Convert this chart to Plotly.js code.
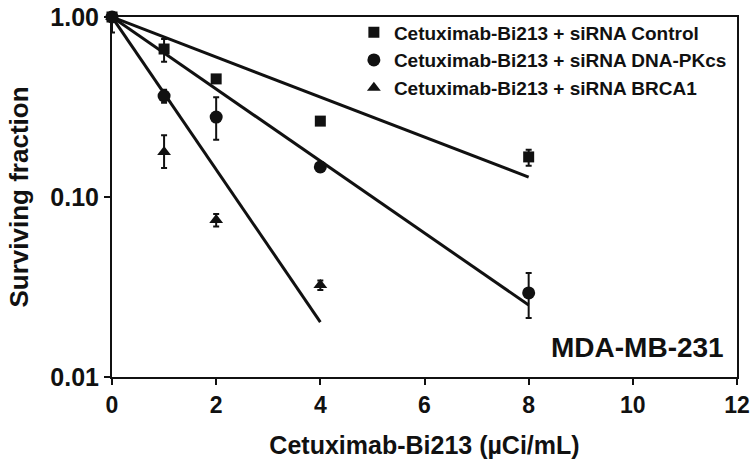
<!DOCTYPE html>
<html>
<head>
<meta charset="utf-8">
<script src="https://cdn.plot.ly/plotly-3.0.1.min.js"></script>
<style>html,body{margin:0;padding:0;background:#fff;}#chart{width:750px;height:465px;}</style>
</head>
<body>
<div id="chart"></div>
<script>
// Doses (µCi/mL)
const dosesCtrl = [0, 1, 2, 4, 8];
const dosesPK = [0, 1, 2, 4, 8];
const dosesBRCA = [0, 1, 2, 4];

// Surviving fraction
const sfCtrl = [1.0, 0.664, 0.453, 0.264, 0.167];
const errCtrlPlus = [0.0, 0.09, 0.02, 0.01, 0.016];
const errCtrlMinus = [0.0, 0.10, 0.02, 0.01, 0.018];

const sfPK = [1.0, 0.364, 0.278, 0.147, 0.0293];
const errPKPlus = [0.0, 0.03, 0.08, 0.008, 0.0085];
const errPKMinus = [0.0, 0.03, 0.07, 0.008, 0.008];

const sfBRCA = [1.0, 0.178, 0.0745, 0.0324];
const errBRCAPlus = [0.0, 0.042, 0.006, 0.002];
const errBRCAMinus = [0.18, 0.033, 0.006, 0.002];

// Fitted exponential curves (endpoints)
const fitCtrlX = [0, 8];
const fitCtrlY = [1.0, 0.129];
const fitPKX = [0, 8];
const fitPKY = [1.0, 0.0251];
const fitBRCAX = [0, 4];
const fitBRCAY = [1.0, 0.0202];

const names = [
  'Cetuximab-Bi213 + siRNA Control',
  'Cetuximab-Bi213 + siRNA DNA-PKcs',
  'Cetuximab-Bi213 + siRNA BRCA1'
];

const FONT = 'Liberation Sans, Arial, Helvetica, sans-serif';
const lineStyle = {color: '#111', width: 3};

function errBars(p, m) {
  return {type: 'data', symmetric: false, array: p, arrayminus: m,
          color: '#111', thickness: 2, width: 3};
}

const traces = [
  {x: fitCtrlX, y: fitCtrlY, mode: 'lines', line: lineStyle, showlegend: false, hoverinfo: 'skip', cliponaxis: false},
  {x: fitPKX, y: fitPKY, mode: 'lines', line: lineStyle, showlegend: false, hoverinfo: 'skip', cliponaxis: false},
  {x: fitBRCAX, y: fitBRCAY, mode: 'lines', line: lineStyle, showlegend: false, hoverinfo: 'skip', cliponaxis: false},
  {x: dosesCtrl, y: sfCtrl, name: names[0], mode: 'markers', cliponaxis: false,
   marker: {symbol: 'square', size: 11, color: '#111'},
   error_y: errBars(errCtrlPlus, errCtrlMinus)},
  {x: dosesPK, y: sfPK, name: names[1], mode: 'markers', cliponaxis: false,
   marker: {symbol: 'circle', size: 13, color: '#111'},
   error_y: errBars(errPKPlus, errPKMinus)},
  {x: dosesBRCA, y: sfBRCA, name: names[2], mode: 'markers', cliponaxis: false,
   marker: {symbol: 'triangle-up', size: 12, color: '#111'},
   error_y: errBars(errBRCAPlus, errBRCAMinus)}
];

const layout = {
  width: 750, height: 465,
  margin: {l: 112, r: 13, t: 17, b: 88},
  paper_bgcolor: '#fff', plot_bgcolor: '#fff',
  font: {family: FONT, color: '#111', weight: 'bold'},
  showlegend: true,
  legend: {
    x: 0.387, y: 1.01, xanchor: 'left', yanchor: 'top',
    font: {family: FONT, size: 19, color: '#111', weight: 'bold'},
    bgcolor: 'rgba(0,0,0,0)', itemwidth: 30
  },
  xaxis: {
    range: [0, 12], tickvals: [0, 2, 4, 6, 8, 10, 12],
    ticks: 'outside', ticklen: 6, tickwidth: 2, tickcolor: '#111',
    showline: true, linewidth: 2, linecolor: '#111', mirror: true,
    showgrid: false, zeroline: false,
    tickfont: {family: FONT, size: 23, color: '#111', weight: 'bold'},
    title: {text: 'Cetuximab-Bi213 (µCi/mL)', standoff: 20,
            font: {family: FONT, size: 25, color: '#111', weight: 'bold'}}
  },
  yaxis: {
    type: 'log', range: [-2, 0],
    tickvals: [0.01, 0.1, 1], ticktext: ['0.01', '0.10', '1.00'],
    ticks: 'outside', ticklen: 6, tickwidth: 2, tickcolor: '#111',
    showline: true, linewidth: 2, linecolor: '#111', mirror: true,
    showgrid: false, zeroline: false,
    tickfont: {family: FONT, size: 25, color: '#111', weight: 'bold'},
    title: {text: 'Surviving fraction', standoff: 14,
            font: {family: FONT, size: 26, color: '#111', weight: 'bold'}}
  },
  annotations: [{
    xref: 'paper', yref: 'paper', x: 0.983, y: 0.083,
    xanchor: 'right', yanchor: 'middle', showarrow: false,
    text: 'MDA-MB-231',
    font: {family: FONT, size: 28, color: '#111', weight: 'bold'}
  }]
};

Plotly.newPlot('chart', traces, layout, {displayModeBar: false, staticPlot: true});
</script>
</body>
</html>
